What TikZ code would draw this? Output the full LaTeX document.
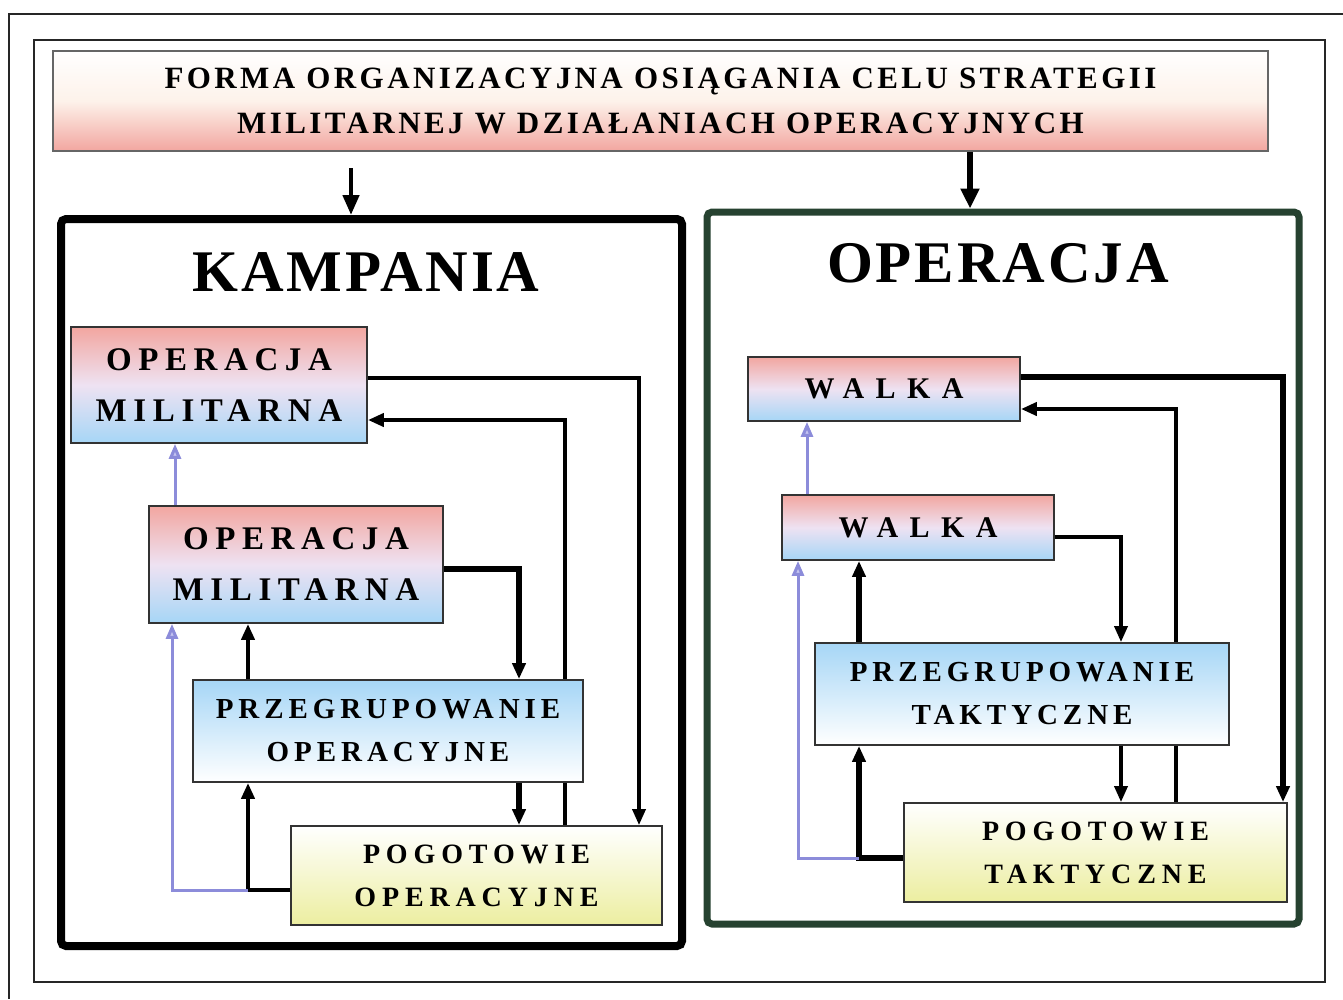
\documentclass[tikz,border=0pt]{standalone}
\usepackage{fontspec}
\setmainfont{Liberation Serif}
\usetikzlibrary{arrows.meta,backgrounds}

\definecolor{salmon}{RGB}{242,166,160}
\definecolor{lilac}{RGB}{238,226,242}
\definecolor{skyblue}{RGB}{166,214,246}
\definecolor{paleyellow}{RGB}{236,238,160}
\definecolor{cream}{RGB}{253,242,234}
\definecolor{lavline}{RGB}{140,140,218}
\definecolor{lavfill}{RGB}{196,196,240}
\definecolor{darkgreen}{RGB}{38,66,48}

\newcommand\boxfont[3]{\fontsize{#1}{#2}\selectfont\bfseries\addfontfeature{LetterSpace=#3}}

\tikzset{
  frame/.style={draw=black!85, line width=1.8pt},
  bigbox/.style={draw, line width=8pt, rounded corners=5pt, inner sep=0pt},
  box/.style={draw=black!80, line width=1.8pt, inner sep=0pt, align=center},
  redblue/.style={box, top color=salmon, bottom color=skyblue, middle color=lilac,
    font=\boxfont{33}{51}{20}},
  bluewhite/.style={box, top color=skyblue, bottom color=white,
    font=\boxfont{29}{43}{17}},
  whiteyellow/.style={box, top color=white, bottom color=paleyellow,
    font=\boxfont{28}{43}{21}},
  heading/.style={font=\boxfont{59}{60}{5}},
  conn/.style={line width=#1, -{Triangle[length=16pt,width=13pt]}},
  conn/.default=4pt,
  lav/.style={draw=lavline, line width=3pt, -{Triangle[length=15pt,width=12pt,fill=lavfill]}},
}

\begin{document}
\begin{tikzpicture}[x=1pt,y=-1pt]
\useasboundingbox (0,0) rectangle (1343,999);
\begin{pgfonlayer}{background}
  \fill[white] (0,0) rectangle (1343,999);
\end{pgfonlayer}

% frames of the page
\draw[frame] (1343,14) -| (9,999);
\draw[frame] (34,40) rectangle (1325,982);

% title
\node[box, draw=black!60, line width=1.5pt, minimum width=1215pt, minimum height=100pt,
  top color=white, bottom color=salmon, middle color=cream, font=\boxfont{31}{45.5}{11}]
  (title) at (660.5,101) {FORMA ORGANIZACYJNA OSIĄGANIA CELU STRATEGII\\MILITARNEJ W DZIAŁANIACH OPERACYJNYCH};

% the two big boxes
\node[bigbox, minimum width=621pt, minimum height=727pt] (kamp) at (371.5,582.5) {};
\node[bigbox, draw=darkgreen, line width=7pt, minimum width=592pt, minimum height=712pt] (oper) at (1003,568) {};
\node[heading] (kamptxt) at (366,272) {KAMPANIA};
\node[heading] (opertxt) at (998,263) {OPERACJA};

\coordinate (kamptop) at (351,168);
\coordinate (c970) at (970,0);
\draw[line width=4.5pt, -{Triangle[length=20pt,width=16pt]}] (kamptop) -- (kamptop |- kamp.north);
\draw[line width=6pt, -{Triangle[length=20pt,width=18pt]}] (title.south -| c970) -- (c970 |- oper.north);

% left: kampania
\node[redblue, minimum width=296pt, minimum height=116pt] (om1) at (219,385) {OPERACJA\\MILITARNA};
\node[redblue, minimum width=294pt, minimum height=117pt] (om2) at (296,564.5) {OPERACJA\\MILITARNA};
\node[bluewhite, minimum width=390pt, minimum height=102pt] (pro) at (388,731) {PRZEGRUPOWANIE\\OPERACYJNE};
\node[whiteyellow, minimum width=371pt, minimum height=99pt] (pgo) at (476.5,875.5) {POGOTOWIE\\OPERACYJNE};

% right: operacja
\node[redblue, font=\boxfont{30}{40}{38}, minimum width=272pt, minimum height=64pt] (wa1) at (884,389) {WALKA};
\node[redblue, font=\boxfont{30}{40}{38}, minimum width=272pt, minimum height=65pt] (wa2) at (918,527.5) {WALKA};
\node[bluewhite, minimum width=414pt, minimum height=102pt] (prt) at (1022,694) {PRZEGRUPOWANIE\\TAKTYCZNE};
\node[whiteyellow, minimum width=383pt, minimum height=99pt] (pgt) at (1095.5,852.5) {POGOTOWIE\\TAKTYCZNE};

% routing columns and rows
\coordinate (c172) at (172,0);
\coordinate (c175) at (175,0);
\coordinate (c248) at (248,0);
\coordinate (c519) at (519,0);
\coordinate (c565) at (565,0);
\coordinate (c639) at (639,0);
\coordinate (r378) at (0,378);
\coordinate (r420) at (0,420);
\coordinate (r569) at (0,569);
\coordinate (r890) at (0,890);
\coordinate (c798) at (798,0);
\coordinate (c807) at (807,0);
\coordinate (c859) at (859,0);
\coordinate (c1121) at (1121,0);
\coordinate (c1176) at (1176,0);
\coordinate (c1283) at (1283,0);
\coordinate (r377) at (0,377);
\coordinate (r409) at (0,409);
\coordinate (r537) at (0,537);
\coordinate (r858) at (0,858);

% lines running behind the middle boxes
\begin{pgfonlayer}{background}
  \draw[conn=4pt] (pgo.north -| c565) |- (om1.east |- r420);
  \draw[conn=4.5pt] (pgt.north -| c1176) |- (wa1.east |- r409);
\end{pgfonlayer}

% left connectors
\draw[conn=3.5pt] (om1.east |- r378) -| (pgo.north -| c639);
\draw[conn=5.5pt] (om2.east |- r569) -| (pro.north -| c519);
\draw[conn=5.5pt] (pro.south -| c519) -- (pgo.north -| c519);
\draw[conn=4.5pt] (pro.north -| c248) -- (om2.south -| c248);
\draw[conn=4.5pt] (pgo.west |- r890) -| (pro.south -| c248);
\draw[lav] (c248 |- r890) -| (om2.south -| c172);
\draw[lav] (om2.north -| c175) -- (om1.south -| c175);

% right connectors
\draw[conn=5.5pt] (wa1.east |- r377) -| (pgt.north -| c1283);
\draw[conn=3.5pt] (wa2.east |- r537) -| (prt.north -| c1121);
\draw[conn=3.5pt] (prt.south -| c1121) -- (pgt.north -| c1121);
\draw[conn=5.5pt] (prt.north -| c859) -- (wa2.south -| c859);
\draw[conn=5.5pt] (pgt.west |- r858) -| (prt.south -| c859);
\draw[lav] (c859 |- r858) -| (wa2.south -| c798);
\draw[lav] (wa2.north -| c807) -- (wa1.south -| c807);
\end{tikzpicture}
\end{document}
